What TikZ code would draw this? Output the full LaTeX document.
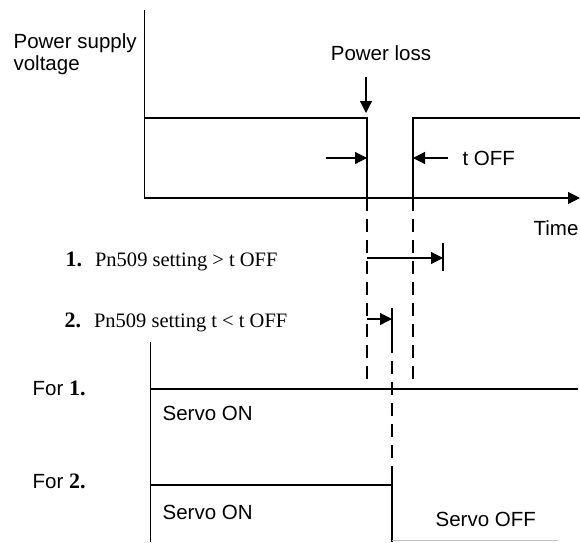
\documentclass[tikz,border=0pt]{standalone}
\usepackage{fontspec}
\setmainfont{Liberation Serif}
\setsansfont{Liberation Sans}
\usetikzlibrary{arrows.meta}
\newcommand{\bnum}[1]{{\rmfamily\bfseries\fontsize{22}{22}\selectfont #1}}
\begin{document}
\begin{tikzpicture}[x=1pt,y=-1pt,
  line width=1.2pt,
  lbl/.style={inner sep=0pt,font=\sffamily\fontsize{20.5}{22}\selectfont},
  slbl/.style={inner sep=0pt,font=\rmfamily\fontsize{20.5}{22}\selectfont},
  tri/.style={-{Triangle[length=12pt,width=12pt]}},
  dsh/.style={dash pattern=on 13pt off 8pt},
  sig/.style={line width=1.2pt},
  ax/.style={line width=1pt}]
\useasboundingbox (0,0) rectangle (580,542);

% texts
\node[lbl,anchor=base west,align=left] (psv) at (13,70) {Power supply\\voltage};
\node[lbl] (ploss) at (381,53) {Power loss};
\node[lbl,anchor=west] (toff) at (462,158) {t OFF};
\node[lbl,anchor=east] (time) at (579,228) {Time};
\node[slbl,anchor=west] (l1) at (65,261) {\bnum{1.}\hspace{13pt}Pn509 setting > t OFF};
\node[slbl,anchor=west] (l2) at (64,322) {\bnum{2.}\hspace{13pt}Pn509 setting t < t OFF};
\node[lbl,anchor=west] (for1) at (32,388) {For \bnum{1.}};
\node[lbl,anchor=west] (for2) at (32,481) {For \bnum{2.}};
\node[lbl,anchor=west] (son1) at (162,413) {Servo ON};
\node[lbl,anchor=west] (son2) at (162,512) {Servo ON};
\node[lbl,anchor=west] (soff) at (435,519) {Servo OFF};

% coordinates
\coordinate (atop) at (144,10);
\coordinate (aorg) at (144,198);
\coordinate (aend) at (580,198);
\coordinate (hiL) at (144,118);
\coordinate (fallT) at (367,118);
\coordinate (fallB) at (367,198);
\coordinate (riseB) at (413,198);
\coordinate (riseT) at (413,118);
\coordinate (hiR) at (580,118);
\coordinate (plA) at (366,77);
\coordinate (plB) at (366,113);
\coordinate (tlA) at (326,158);
\coordinate (tlB) at (367,158);
\coordinate (trA) at (448,158);
\coordinate (trB) at (413,158);
\coordinate (d1e) at (367,382);
\coordinate (d2e) at (413,382);
\coordinate (a1s) at (367,258);
\coordinate (a1e) at (443,258);
\coordinate (t1a) at (443,243);
\coordinate (t1b) at (443,271);
\coordinate (a2s) at (367,319);
\coordinate (a2e) at (392,319);
\coordinate (t2a) at (392,308);
\coordinate (t2b) at (392,340);
\coordinate (d3e) at (392,475);
\coordinate (offB) at (392,542);
\coordinate (btop) at (150,342);
\coordinate (bbot) at (150,542);
\coordinate (f1L) at (150,389);
\coordinate (f1R) at (578,389);
\coordinate (f2L) at (150,485);
\coordinate (f2R) at (392,485);
\coordinate (gL) at (392,540.5);
\coordinate (gR) at (558,540.5);

% upper diagram
\draw[ax] (atop) -- (aorg);
\draw[sig,tri] (aorg) -- (aend);
\draw[sig] (hiL) -- (fallT) -- (fallB);
\draw[sig] (riseB) -- (riseT) -- (hiR);
\draw[sig,tri] (plA) -- (plB);
\draw[sig,tri] (tlA) -- (tlB);
\draw[sig,tri] (trA) -- (trB);

% dashed projections
\draw[sig,dsh] (fallB) -- (d1e);
\draw[sig,dsh] (riseB) -- (d2e);

% setting arrows
\draw[sig,tri] (a1s) -- (a1e);
\draw[sig] (t1a) -- (t1b);
\draw[sig,tri] (a2s) -- (a2e);
\draw[sig] (t2a) -- (t2b);
\draw[sig,dsh] (t2b) -- (d3e);
\draw[sig] (d3e) -- (offB);

% lower diagram
\draw[ax] (btop) -- (bbot);
\draw[sig] (f1L) -- (f1R);
\draw[sig] (f2L) -- (f2R);
\draw[line width=0.8pt,gray!50] (gL) -- (gR);
\end{tikzpicture}
\end{document}
